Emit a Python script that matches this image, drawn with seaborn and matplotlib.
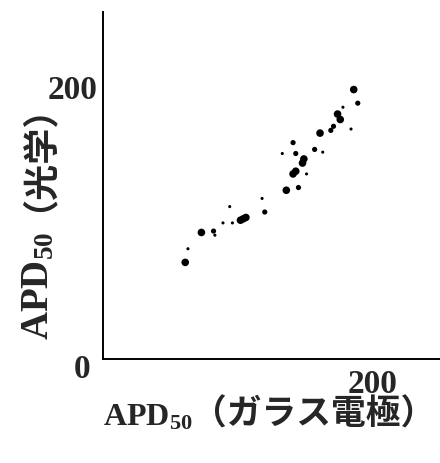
import matplotlib
matplotlib.use("Agg")
import matplotlib.pyplot as plt
import seaborn as sns
import pandas as pd

# Data
x_vals = [186, 189, 178, 174, 176, 171, 169, 184, 161, 141, 157, 163, 133, 143, 149, 148,
          141, 143, 151, 145, 136, 118, 94, 120, 104, 106, 102, 96, 89, 73, 82, 83, 63, 61]
y_vals = [198, 188, 185, 180, 176, 171, 168, 169, 166, 159, 154, 152, 151, 151, 147, 144,
          136, 138, 136, 126, 124, 118, 112, 108, 103, 104, 102, 100, 100, 93, 94, 91, 81, 71]
size_codes = [3, 2, 1, 3, 3, 2, 2, 1, 3, 2, 2, 1, 1, 2, 3, 3,
              3, 3, 1, 2, 3, 1, 1, 2, 3, 3, 3, 1, 1, 3, 2, 1, 1, 3]
x_ticks = [200]
y_ticks = [200]
origin_label = "0"
x_label_main = "APD$_{\\mathbf{50}}$"
x_label_jp = "（ガラス電極）"
y_label_main = "APD$_{\\mathbf{50}}$"
y_label_jp = "（光学）"

df = pd.DataFrame({"x": x_vals, "y": y_vals, "s": size_codes})

sns.set_style("white")
plt.rcParams["mathtext.fontset"] = "custom"
plt.rcParams["mathtext.rm"] = "Liberation Serif:bold"
plt.rcParams["mathtext.bf"] = "Liberation Serif:bold"
plt.rcParams["mathtext.it"] = "Liberation Serif:bold"
plt.rcParams["font.family"] = ["Liberation Serif", "Noto Sans CJK JP", "DejaVu Sans"]

W, H = 440, 463
fig = plt.figure(figsize=(W / 100, H / 100), dpi=100)
ax = fig.add_axes([103 / W, 1 - 359 / H, 337 / W, 347 / H])

sns.scatterplot(data=df, x="x", y="y", size="s", sizes={1: 5, 2: 14, 3: 30},
                color="black", edgecolor="none", legend=False, ax=ax)

ax.set_xlim(0, 250)
ax.set_ylim(0, 255)
for side in ["top", "right"]:
    ax.spines[side].set_visible(False)
for side in ["left", "bottom"]:
    ax.spines[side].set_color("black")
    ax.spines[side].set_linewidth(1.4)

ax.set_xticks(x_ticks)
ax.set_yticks(y_ticks)
ax.set_xticklabels([str(v) for v in x_ticks], fontsize=24, fontweight="bold",
                   family="Liberation Serif")
ax.set_yticklabels([str(v) for v in y_ticks], fontsize=24, fontweight="bold",
                   family="Liberation Serif")
ax.tick_params(axis="x", length=0, pad=7)
ax.tick_params(axis="y", length=0, pad=4)
ax.set_xlabel("")
ax.set_ylabel("")

# origin label
fig.text(82 / W, 1 - 369 / H, origin_label, fontsize=24, fontweight="bold",
         family="Liberation Serif", ha="center", va="center")

# x label pieces
fig.text(103 / W, 1 - 426 / H, x_label_main, fontsize=23, fontweight="bold",
         ha="left", va="baseline")
fig.text(314 / W, 1 - 425 / H, x_label_jp, fontsize=25, fontweight="bold",
         family=["Noto Sans CJK JP", "DejaVu Sans"], ha="center", va="baseline")

# y label pieces (rotated)
fig.text(48 / W, 1 - 340 / H, y_label_main, fontsize=28, fontweight="bold",
         rotation=90, rotation_mode="anchor", ha="left", va="baseline")
fig.text(20 / W, 1 - 140 / H, y_label_jp, fontsize=26, fontweight="bold",
         family=["Noto Sans CJK JP", "DejaVu Sans"], rotation=90,
         rotation_mode="anchor", ha="center", va="center")

fig.savefig("out.png", dpi=100)
